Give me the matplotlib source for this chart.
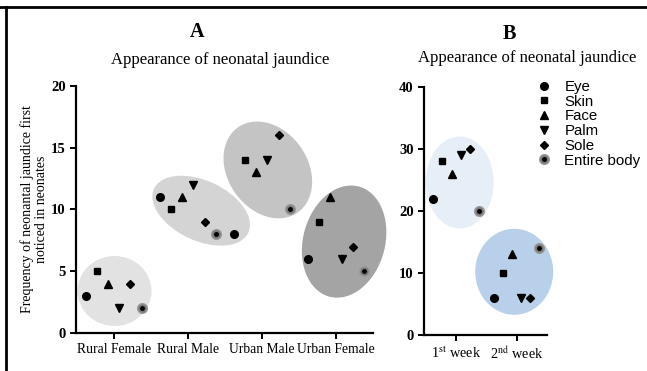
import numpy as np
import matplotlib
matplotlib.use("Agg")
import matplotlib.pyplot as plt
from matplotlib.patches import Ellipse
from matplotlib.transforms import ScaledTranslation
from matplotlib.lines import Line2D

plt.rcParams['font.family'] = ['Liberation Serif', 'DejaVu Serif']
plt.rcParams['mathtext.fontset'] = 'stix'

# panel A data
groups_a = ["Rural Female", "Rural Male", "Urban Male", "Urban Female"]
eye_a = [3, 11, 8, 6]
skin_a = [5, 10, 14, 9]
face_a = [4, 11, 13, 11]
palm_a = [2, 12, 14, 6]
sole_a = [4, 9, 16, 7]
entire_a = [2, 8, 10, 5]

# panel B data
groups_b = ["1$^{\\rm st}$ week", "2$^{\\rm nd}$ week"]
eye_b = [22, 6]
skin_b = [28, 10]
face_b = [26, 13]
palm_b = [29, 6]
sole_b = [30, 6]
entire_b = [20, 14]

parts = ["Eye", "Skin", "Face", "Palm", "Sole", "Entire body"]
markers = ["o", "s", "^", "v", "D"]
msizes = [5.5, 5, 5.5, 5.5, 4]
offsets = [-0.375, -0.225, -0.075, 0.075, 0.225, 0.375]

fig = plt.figure(figsize=(6.47, 3.71), dpi=100)
ax_a = fig.add_axes([0.1175, 0.1024, 0.459, 0.666])
ax_b = fig.add_axes([0.6553, 0.097, 0.190, 0.6685])


def blob(ax, cx, cy, w, h, ang, col):
    # ellipse sized in pixels, placed at a data point
    tr = fig.dpi_scale_trans + ScaledTranslation(cx, cy, ax.transData)
    e = Ellipse((0, 0), w / 100, h / 100, angle=ang, transform=tr,
                facecolor=col, edgecolor='none', zorder=1, clip_on=False)
    ax.add_patch(e)


def draw(ax, series, n):
    x = np.arange(1, n + 1)
    handles = []
    for i, vals in enumerate(series[:5]):
        h, = ax.plot(x + offsets[i], vals, ls='none', marker=markers[i],
                     ms=msizes[i], color='black', zorder=3, clip_on=False)
        handles.append(h)
    g, = ax.plot(x + offsets[5], series[5], ls='none', marker='o', ms=7,
                 color='#7a7a7a', mec='#9a9a9a', zorder=3, clip_on=False)
    d, = ax.plot(x + offsets[5], series[5], ls='none', marker='o', ms=2.5,
                 color='black', zorder=4, clip_on=False)
    handles.append((g, d))
    return handles


blob(ax_a, 1.01, 3.4, 74, 70, 0, '#e2e2e2')
blob(ax_a, 2.18, 9.9, 104, 60, -25, '#d4d4d4')
blob(ax_a, 3.08, 13.2, 104, 80, -55, '#c4c4c4')
blob(ax_a, 4.11, 7.4, 114, 82, 75, '#a4a4a4')
draw(ax_a, [eye_a, skin_a, face_a, palm_a, sole_a, entire_a], 4)

blob(ax_b, 1.06, 24.6, 68, 92, 0, '#e6eef8')
blob(ax_b, 1.96, 10.2, 78, 86, 0, '#b8d0ea')
hb = draw(ax_b, [eye_b, skin_b, face_b, palm_b, sole_b, entire_b], 2)

ax_a.set_xlim(0.49, 4.5)
ax_a.set_ylim(0, 20)
ax_a.set_yticks([0, 5, 10, 15, 20])
ax_a.set_xticks(range(1, 5))
ax_a.set_xticklabels(groups_a, fontsize=9.8)

ax_b.set_xlim(0.47, 2.5)
ax_b.set_ylim(0, 40)
ax_b.set_yticks([0, 10, 20, 30, 40])
ax_b.set_xticks([1, 2])
ax_b.set_xticklabels(groups_b, fontsize=10.3)

for ax in (ax_a, ax_b):
    for s in ('top', 'right'):
        ax.spines[s].set_visible(False)
    for s in ('left', 'bottom'):
        ax.spines[s].set_linewidth(1.6)
    ax.tick_params(width=1.4, length=4, direction='out')
    ax.set_yticklabels([str(int(v)) for v in ax.get_yticks()],
                       fontsize=10.5, fontweight='bold')

fig.text(0.3045, 0.915, "A", fontsize=14.5, fontweight='bold', ha='center', va='center')
fig.text(0.340, 0.838, "Appearance of neonatal jaundice", fontsize=12, ha='center', va='center')
fig.text(0.787, 0.909, "B", fontsize=14.5, fontweight='bold', ha='center', va='center')
fig.text(0.8145, 0.843, "Appearance of neonatal jaundice", fontsize=12, ha='center', va='center')
fig.text(0.053, 0.437, "Frequency of neonantal jaundice first\nnoticed in neonates",
         fontsize=10, rotation=90, ha='center', va='center', linespacing=1.15)

leg = ax_b.legend(hb, parts, loc='upper left', bbox_to_anchor=(0.8295, 0.785),
                  bbox_transform=fig.transFigure, frameon=False,
                  handlelength=1.0, handletextpad=0.85, labelspacing=0.05,
                  borderpad=0, borderaxespad=0,
                  prop={'family': ['Liberation Sans'], 'size': 10.8})

# frame lines along top and left of the figure
fig.add_artist(Line2D([0, 1], [0.982, 0.982], color='black', lw=2, transform=fig.transFigure))
fig.add_artist(Line2D([0.0095, 0.0095], [0, 0.982], color='black', lw=2, transform=fig.transFigure))

fig.savefig("out.png", dpi=100)
